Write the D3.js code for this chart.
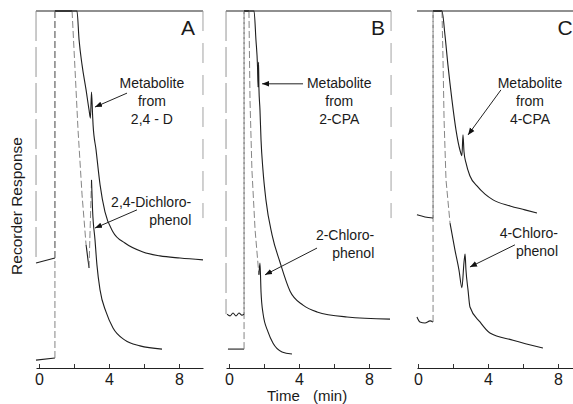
<!DOCTYPE html>
<html>
<head>
<meta charset="utf-8">
<script src="https://cdn.jsdelivr.net/npm/d3@7"></script>
<style>
  body { margin: 0; background: #fff; }
  text { font-family: "Liberation Sans", Arial, sans-serif; fill: #1a1a1a; }
</style>
</head>
<body>
<svg id="chart" width="573" height="404"></svg>
<script>
// recorder traces, [time (min), response (% of full scale)]
const timeTicks = [0, 2, 4, 6, 8];
const tickLabels = ["0", "", "4", "", "8"];

const traceA_sample = [[-0.17,29.4],[0.91,30.8],[0.91,100],[2.17,100],[2.29,91.9],[2.46,84.9],[2.69,77.9],[2.86,72.3],[2.94,70.0],[3.0,77.3],[3.06,71.1],[3.09,68.1],[3.26,61.1],[3.49,51.3],[3.77,43.7],[4.23,38.1],[4.91,35.0],[5.94,32.5],[6.91,31.4],[8.06,30.8],[9.37,30.3]];
const traceA_standard = [[-0.17,2.2],[0.91,2.8],[0.91,100],[1.89,100],[2.06,83.5],[2.23,66.7],[2.46,48.5],[2.69,34.5],[2.86,28.0],[3.0,52.7],[3.06,44.3],[3.2,35.9],[3.31,28.9],[3.49,21.8],[3.83,15.7],[4.23,11.2],[4.91,7.8],[5.77,6.2],[7.03,5.3]];

const traceB_sample = [[-0.11,15.1],[0.06,14.6],[0.23,15.4],[0.4,14.6],[0.57,15.4],[0.74,14.8],[0.86,15.1],[0.86,100],[1.43,100],[1.54,91.9],[1.63,84.3],[1.66,78.7],[1.69,85.7],[1.71,78.4],[1.77,72.3],[1.83,63.9],[1.94,55.5],[2.11,47.1],[2.46,37.3],[2.91,29.7],[3.49,21.5],[4.23,17.6],[5.03,15.7],[6.74,14.3],[9.2,13.7]];
const traceB_standard = [[-0.06,5.3],[0.86,5.3],[0.86,100],[1.14,100],[1.2,75.1],[1.31,55.5],[1.49,38.7],[1.71,26.1],[1.77,29.4],[1.83,21.3],[1.94,15.4],[2.23,10.1],[2.51,7.0],[3.03,4.5],[3.6,3.9]];

const traceC_sample = [[-0.06,42.9],[0.4,42.3],[0.86,42.0],[0.86,100],[1.37,100],[1.54,93.3],[1.71,84.9],[1.94,75.1],[2.17,66.7],[2.4,61.0],[2.51,59.5],[2.57,65.3],[2.63,60.5],[2.74,57.5],[2.97,53.8],[3.37,51.0],[3.83,48.7],[4.29,47.1],[5.26,45.4],[6.11,44.3],[6.8,43.4]];
const traceC_standard = [[-0.06,14.3],[0.11,12.9],[0.4,12.6],[0.69,13.2],[0.86,12.9],[0.86,100],[1.37,100],[1.43,86.3],[1.49,69.5],[1.6,52.7],[1.83,40.6],[2.11,33.1],[2.34,27.5],[2.51,22.5],[2.63,29.7],[2.69,31.9],[2.74,27.5],[2.86,21.8],[2.97,17.1],[3.54,12.9],[4.11,9.8],[5.43,7.8],[7.14,5.6]];

const panelNames = ["A", "B", "C"];
const metaboliteLabels = [["Metabolite", "from", "2,4 - D"], ["Metabolite", "from", "2-CPA"], ["Metabolite", "from", "4-CPA"]];
const phenolLabels = [["2,4-Dichloro-", "phenol"], ["2-Chloro-", "phenol"], ["4-Chloro-", "phenol"]];

// annotation anchors in data units: [labelT, labelR, arrowFromT, arrowFromR, arrowToT, arrowToR]
const metaboliteNotes = [[6.45, 78.4, 5.03, 77.0, 3.2, 73.1], [6.3, 78.4, 4.23, 79.6, 1.89, 79.6], [6.4, 78.4, 4.74, 77.9, 2.86, 65.3]];
const phenolNotes = [[8.7, 45.0, 5.6, 44.3, 3.2, 39.2], [8.3, 35.9, 5.03, 33.6, 2.06, 26.1], [8.0, 36.4, 5.54, 34.5, 2.97, 28.3]];

const width = 573, height = 404;
const pxPerMin = 17.5;
const axisY = 368, topY = 11;

const panels = [
    {zeroX: 39, domain: [-0.17, 9.37], sample: traceA_sample, standard: traceA_standard, leftEdge: true, rightEdge: true},
    {zeroX: 229, domain: [-0.17, 9.26], sample: traceB_sample, standard: traceB_standard, leftEdge: true, rightEdge: true},
    {zeroX: 418, domain: [-0.06, 9.4], sample: traceC_sample, standard: traceC_standard, leftEdge: false, rightEdge: false}
];

const svg = d3.select("#chart");
svg.append("rect").attr("width", width).attr("height", height).attr("fill", "#fff");

svg.append("defs").append("marker")
    .attr("id", "arrowhead")
    .attr("viewBox", "0 -5 10 10")
    .attr("refX", 10).attr("refY", 0)
    .attr("markerWidth", 7).attr("markerHeight", 7)
    .attr("markerUnits", "userSpaceOnUse")
    .attr("orient", "auto")
    .append("path")
    .attr("d", "M0,-4L10,0L0,4Z")
    .attr("fill", "#111");

const y = d3.scaleLinear().domain([0, 100]).range([axisY, topY]);

function drawTrace(g, x, pts) {
    // split into runs: long steep pen strokes look faint/broken on the chart paper
    let runs = [];
    for (let i = 1; i < pts.length; i++) {
        let dx = x(pts[i][0]) - x(pts[i - 1][0]);
        let dy = y(pts[i][1]) - y(pts[i - 1][1]);
        let faint = Math.abs(dy) > 40 && Math.abs(dy) > 3 * Math.abs(dx);
        let last = runs[runs.length - 1];
        if (last && last.faint === faint) {
            last.pts.push(pts[i]);
        } else {
            runs.push({faint: faint, pts: [pts[i - 1], pts[i]]});
        }
    }
    let straight = d3.line().x(d => x(d[0])).y(d => y(d[1]));
    let smooth = d3.line().x(d => x(d[0])).y(d => y(d[1])).curve(d3.curveMonotoneX);
    g.selectAll(null)
        .data(runs)
        .enter()
        .append("path")
        .attr("d", d => d.faint ? straight(d.pts) : smooth(d.pts))
        .attr("fill", "none")
        .attr("stroke", d => d.faint ? "#777" : "#1e1e1e")
        .attr("stroke-width", d => d.faint ? 0.9 : 1.1)
        .attr("stroke-dasharray", d => d.faint ? "7,3" : null)
        .attr("stroke-linejoin", "round");
}

panels.forEach(function (p, i) {
    let x = d3.scaleLinear()
        .domain(p.domain)
        .range([p.zeroX + p.domain[0] * pxPerMin, p.zeroX + p.domain[1] * pxPerMin]);
    let g = svg.append("g").attr("class", "panel");

    // chart paper frame
    g.append("line")
        .attr("x1", x(p.domain[0])).attr("x2", x(p.domain[1]))
        .attr("y1", y(100)).attr("y2", y(100))
        .attr("stroke", "#222").attr("stroke-width", 1.2);
    if (p.leftEdge) {
        g.append("line")
            .attr("x1", x(p.domain[0])).attr("x2", x(p.domain[0]))
            .attr("y1", y(100)).attr("y2", y(p.sample[0][1]))
            .attr("stroke", "#888").attr("stroke-width", 0.9)
            .attr("stroke-dasharray", "30,6");
    }
    if (p.rightEdge) {
        g.append("line")
            .attr("x1", x(p.domain[1])).attr("x2", x(p.domain[1]))
            .attr("y1", y(100)).attr("y2", y(42))
            .attr("stroke", "#999").attr("stroke-width", 0.9)
            .attr("stroke-dasharray", "20,12");
    }

    // time axis
    let axis = d3.axisBottom(x)
        .tickValues(timeTicks)
        .tickFormat((d, k) => tickLabels[k])
        .tickSizeInner(-4)
        .tickSizeOuter(0)
        .tickPadding(6);
    let ax = g.append("g")
        .attr("transform", "translate(0," + axisY + ")")
        .call(axis);
    ax.select(".domain").attr("stroke", "#222").attr("stroke-width", 1.1);
    ax.selectAll(".tick line").attr("stroke", "#333");
    ax.selectAll(".tick text")
        .attr("font-size", 16)
        .attr("font-family", "'Liberation Sans', Arial, sans-serif")
        .attr("fill", "#222");

    drawTrace(g, x, p.standard);
    drawTrace(g, x, p.sample);

    // panel letter, kept inside the page at the right edge
    g.append("text")
        .attr("x", Math.min(x(p.domain[0]) + 152, width - 8))
        .attr("y", 35)
        .attr("text-anchor", "middle")
        .attr("font-size", 21)
        .text(panelNames[i]);

    // metabolite note
    let m = metaboliteNotes[i];
    g.append("text")
        .attr("text-anchor", "middle")
        .attr("font-size", 14)
        .selectAll("tspan")
        .data(metaboliteLabels[i])
        .enter()
        .append("tspan")
        .attr("x", x(m[0]))
        .attr("y", (d, k) => y(m[1]) + k * 18)
        .text(d => d);
    g.append("line")
        .attr("x1", x(m[2])).attr("y1", y(m[3]))
        .attr("x2", x(m[4])).attr("y2", y(m[5]))
        .attr("stroke", "#222").attr("stroke-width", 1)
        .attr("marker-end", "url(#arrowhead)");

    // phenol standard note
    let n = phenolNotes[i];
    g.append("text")
        .attr("text-anchor", "end")
        .attr("font-size", 14)
        .selectAll("tspan")
        .data(phenolLabels[i])
        .enter()
        .append("tspan")
        .attr("x", x(n[0]))
        .attr("y", (d, k) => y(n[1]) + k * 18)
        .text(d => d);
    g.append("line")
        .attr("x1", x(n[2])).attr("y1", y(n[3]))
        .attr("x2", x(n[4])).attr("y2", y(n[5]))
        .attr("stroke", "#222").attr("stroke-width", 1)
        .attr("marker-end", "url(#arrowhead)");
});

svg.append("text")
    .attr("transform", "translate(22,206) rotate(-90)")
    .attr("text-anchor", "middle")
    .attr("font-size", 15.5)
    .text("Recorder  Response");

svg.append("text")
    .attr("x", 267).attr("y", 401)
    .attr("font-size", 15)
    .text("Time");
svg.append("text")
    .attr("x", 313).attr("y", 401)
    .attr("font-size", 15)
    .text("(min)");
</script>
</body>
</html>
